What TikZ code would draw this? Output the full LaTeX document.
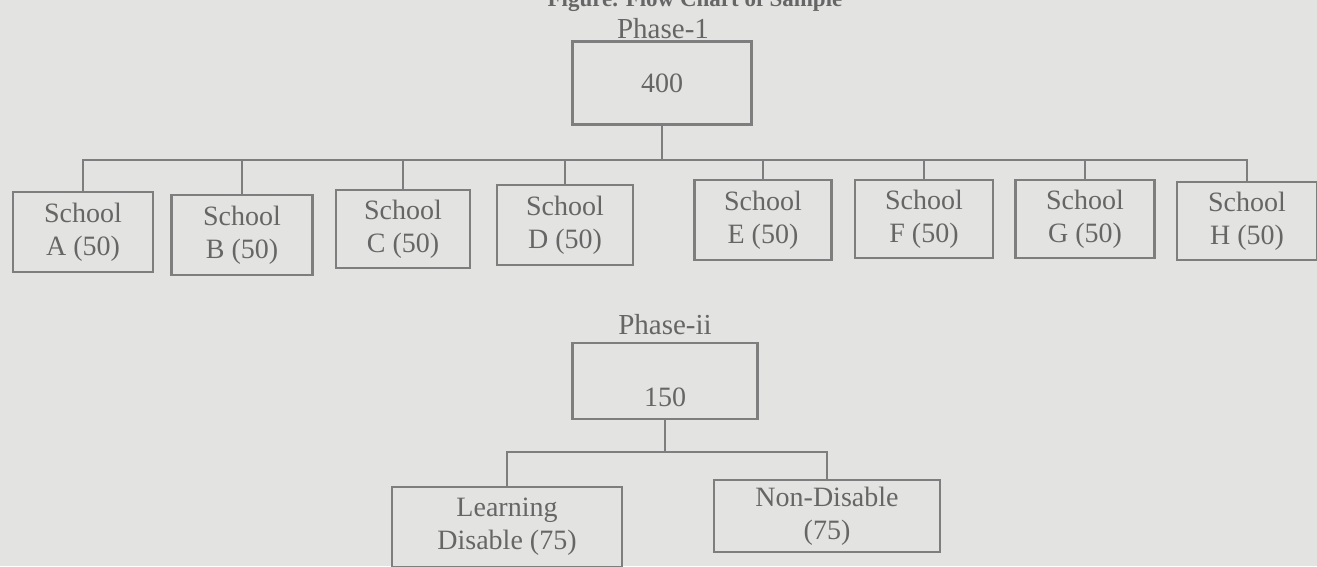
\documentclass[tikz,border=0pt]{standalone}
\usepackage{fontspec}
\setmainfont{Liberation Serif}
\definecolor{paper}{HTML}{E3E3E1}
\definecolor{ink}{HTML}{666666}
\definecolor{rule}{HTML}{7E7E7E}
\begin{document}
\begin{tikzpicture}[x=1pt,y=-1pt,
  box/.style={draw=rule,line width=2.4pt,rectangle,inner sep=0pt,align=center,text=ink,
    font=\fontsize{28}{33}\selectfont},
  lbl/.style={text=ink,inner sep=0pt,font=\fontsize{29}{30}\selectfont},
  conn/.style={draw=rule,line width=2.4pt}]
\fill[paper] (0,0) rectangle (1317,566);
\useasboundingbox (0,0) rectangle (1317,566);
% cut-off caption at the top
\node[lbl,font=\bfseries\fontsize{23}{25}\selectfont,anchor=base] (cap) at (695,6) {Figure. Flow Chart of Sample};
% Phase 1
\node[lbl,anchor=base] (ph1) at (663,38) {Phase-1};
\node[box,minimum width=179pt,minimum height=83pt] (top) at (662,83) {400};
\node[box,minimum width=140pt,minimum height=80pt] (sA) at (83,232) {School\\A (50)};
\node[box,minimum width=141pt,minimum height=80pt] (sB) at (242,235) {School\\B (50)};
\node[box,minimum width=134pt,minimum height=78pt] (sC) at (403,229) {School\\C (50)};
\node[box,minimum width=136pt,minimum height=80pt] (sD) at (565,225) {School\\D (50)};
\node[box,minimum width=137pt,minimum height=80pt] (sE) at (763,220) {School\\E (50)};
\node[box,minimum width=138pt,minimum height=78pt] (sF) at (924,219) {School\\F (50)};
\node[box,minimum width=139pt,minimum height=78pt] (sG) at (1085,219) {School\\G (50)};
\node[box,minimum width=140pt,minimum height=78pt] (sH) at (1247,221) {School\\H (50)};
\coordinate (bus) at (662,160);
\draw[conn] (top.south) -- (bus);
\foreach \s in {sA,sB,sC,sD,sE,sF,sG,sH}{\draw[conn] (bus) -| (\s.north);}
% Phase 2
\node[lbl,anchor=base] (ph2) at (665,334) {Phase-ii};
\node[box,minimum width=185pt,minimum height=76pt] (mid) at (665,381) {};
\node[text=ink,inner sep=0pt,font=\fontsize{28}{30}\selectfont,anchor=base] (midt) at (mid.center |- 0,406) {150};
\node[box,minimum width=230pt,minimum height=80pt] (ld) at (507,527) {Learning\\Disable (75)};
\node[box,minimum width=226pt,minimum height=72pt] (nd) at (827,516) {Non-Disable\\(75)};
\coordinate (bus2) at (665,452);
\draw[conn] (mid.south) -- (bus2);
\draw[conn] (bus2) -| (ld.north);
\draw[conn] (bus2) -| (nd.north);
\end{tikzpicture}
\end{document}
